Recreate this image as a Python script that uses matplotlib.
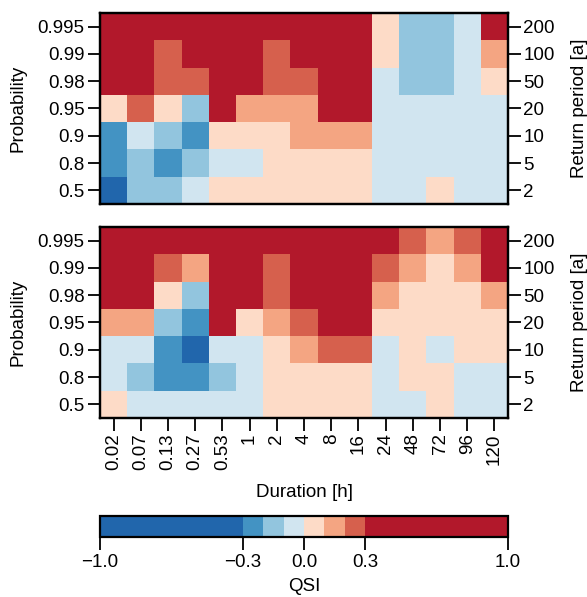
import matplotlib
matplotlib.use("Agg")
import matplotlib.pyplot as plt
import numpy as np
from matplotlib.colors import ListedColormap, BoundaryNorm
from matplotlib.colorbar import ColorbarBase

plt.rcParams['font.family'] = ['Liberation Sans', 'DejaVu Sans']
plt.rcParams['font.size'] = 13.5

# Axis categories
durations = ["0.02", "0.07", "0.13", "0.27", "0.53", "1", "2", "4", "8",
             "16", "24", "48", "72", "96", "120"]
probabilities = ["0.995", "0.99", "0.98", "0.95", "0.9", "0.8", "0.5"]
return_periods = ["200", "100", "50", "20", "10", "5", "2"]

# QSI values, rows from top (0.995) to bottom (0.5)
qsi_top = [
    [0.5, 0.5, 0.5, 0.5, 0.5, 0.5, 0.5, 0.5, 0.5, 0.5, 0.05, -0.15, -0.15, -0.05, 0.5],
    [0.5, 0.5, 0.25, 0.5, 0.5, 0.5, 0.25, 0.5, 0.5, 0.5, 0.05, -0.15, -0.15, -0.05, 0.15],
    [0.5, 0.5, 0.25, 0.25, 0.5, 0.5, 0.25, 0.25, 0.5, 0.5, -0.05, -0.15, -0.15, -0.05, 0.05],
    [0.05, 0.25, 0.05, -0.15, 0.5, 0.15, 0.15, 0.15, 0.5, 0.5, -0.05, -0.05, -0.05, -0.05, -0.05],
    [-0.25, -0.05, -0.15, -0.25, 0.05, 0.05, 0.05, 0.15, 0.15, 0.15, -0.05, -0.05, -0.05, -0.05, -0.05],
    [-0.25, -0.15, -0.25, -0.15, -0.05, -0.05, 0.05, 0.05, 0.05, 0.05, -0.05, -0.05, -0.05, -0.05, -0.05],
    [-0.5, -0.15, -0.15, -0.05, 0.05, 0.05, 0.05, 0.05, 0.05, 0.05, -0.05, -0.05, 0.05, -0.05, -0.05],
]
qsi_bottom = [
    [0.5, 0.5, 0.5, 0.5, 0.5, 0.5, 0.5, 0.5, 0.5, 0.5, 0.5, 0.25, 0.15, 0.25, 0.5],
    [0.5, 0.5, 0.25, 0.15, 0.5, 0.5, 0.25, 0.5, 0.5, 0.5, 0.25, 0.15, 0.05, 0.15, 0.5],
    [0.5, 0.5, 0.05, -0.15, 0.5, 0.5, 0.25, 0.5, 0.5, 0.5, 0.15, 0.05, 0.05, 0.05, 0.15],
    [0.15, 0.15, -0.15, -0.25, 0.5, 0.05, 0.15, 0.25, 0.5, 0.5, 0.05, 0.05, 0.05, 0.05, 0.05],
    [-0.05, -0.05, -0.25, -0.5, -0.05, -0.05, 0.05, 0.15, 0.25, 0.25, -0.05, 0.05, -0.05, 0.05, 0.05],
    [-0.05, -0.15, -0.25, -0.25, -0.15, -0.05, 0.05, 0.05, 0.05, 0.05, -0.05, 0.05, 0.05, -0.05, -0.05],
    [0.05, -0.05, -0.05, -0.05, -0.05, -0.05, 0.05, 0.05, 0.05, 0.05, -0.05, -0.05, 0.05, -0.05, -0.05],
]

levels = [-1.0, -0.3, -0.2, -0.1, 0.0, 0.1, 0.2, 0.3, 1.0]
colors = ["#2166ac", "#4393c3", "#92c5de", "#d1e5f0",
          "#fddbc7", "#f4a582", "#d6604d", "#b2182b"]
cmap = ListedColormap(colors)
norm = BoundaryNorm(levels, cmap.N)

W, H = 587, 597
fig = plt.figure(figsize=(W / 100, H / 100), dpi=100)


def fx(px):
    return px / W


def fy(px):
    return 1 - px / H


def heatmap(top, bottom, data, show_x):
    ax = fig.add_axes([fx(100), fy(bottom), fx(408), (bottom - top) / H])
    arr = np.array(data)
    ax.pcolormesh(np.arange(len(durations) + 1), np.arange(len(probabilities) + 1),
                  arr, cmap=cmap, norm=norm)
    ax.set_xlim(0, len(durations))
    ax.set_ylim(len(probabilities), 0)
    ax.set_yticks(np.arange(len(probabilities)) + 0.5)
    ax.set_yticklabels(probabilities)
    ax.set_ylabel("Probability", labelpad=8)
    ax.set_xticks(np.arange(len(durations)) + 0.5)
    if show_x:
        ax.set_xticklabels(durations, rotation=90)
        ax.set_xlabel("Duration [h]", labelpad=10)
    else:
        ax.tick_params(axis='x', bottom=False, labelbottom=False)
    ax.tick_params(length=9, width=1.3, pad=2)
    for s in ax.spines.values():
        s.set_linewidth(1.6)

    ax2 = ax.twinx()
    ax2.set_ylim(len(probabilities), 0)
    ax2.set_yticks(np.arange(len(return_periods)) + 0.5)
    ax2.set_yticklabels(return_periods)
    ax2.set_ylabel("Return period [a]", labelpad=12)
    ax2.tick_params(length=9, width=1.3, pad=2)
    for s in ax2.spines.values():
        s.set_linewidth(1.6)
    return ax


heatmap(13, 204, qsi_top, False)
heatmap(227, 418, qsi_bottom, True)

cax = fig.add_axes([fx(100), fy(537), fx(408), 21 / H])
cb = ColorbarBase(cax, cmap=cmap, norm=norm, boundaries=levels,
                  spacing='proportional', orientation='horizontal')
cb.set_ticks([-1.0, -0.3, 0.0, 0.3, 1.0])
cb.set_ticklabels(["\u22121.0", "\u22120.3", "0.0", "0.3", "1.0"])
cax.minorticks_off()
cb.outline.set_linewidth(1.6)
cax.tick_params(length=9, width=1.3, pad=3)
cb.set_label("QSI", labelpad=5)

fig.savefig("out.png", dpi=100)
